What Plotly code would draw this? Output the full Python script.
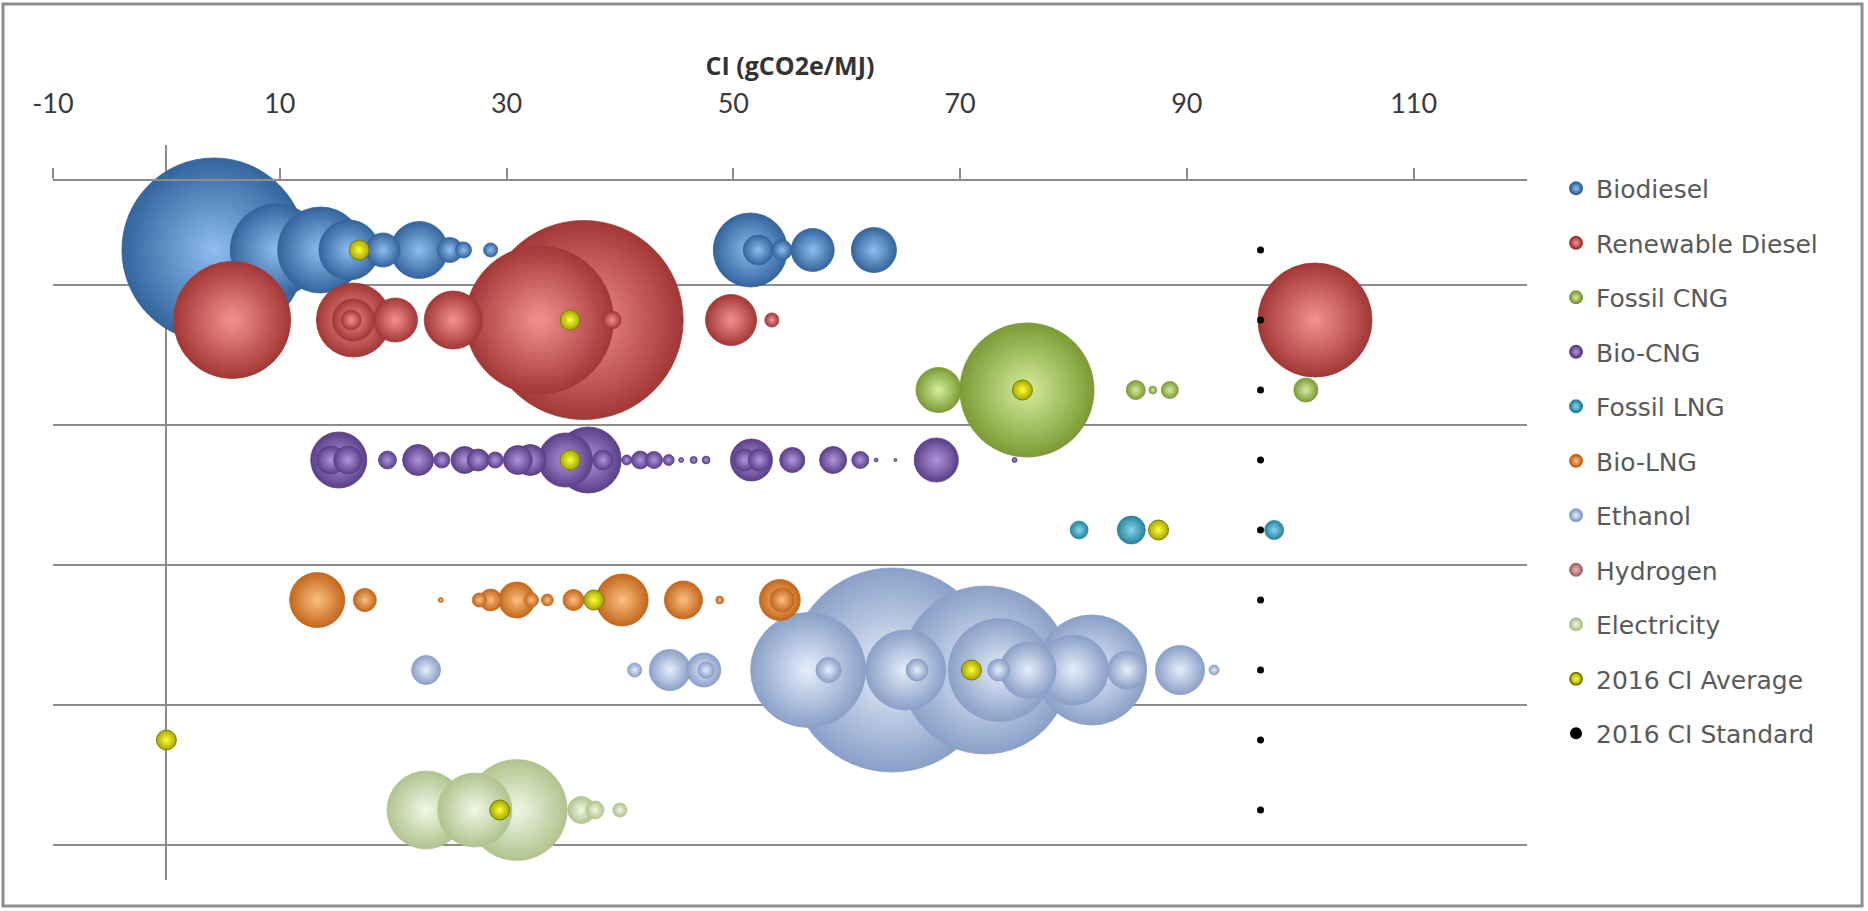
import plotly.graph_objects as go

# Fuel categories, one row each (top to bottom)
fuels = ["Biodiesel", "Renewable Diesel", "Fossil CNG", "Bio-CNG", "Fossil LNG",
         "Bio-LNG", "Ethanol", "Hydrogen", "Electricity"]

# Carbon intensity (gCO2e/MJ) and volume of each certified pathway
biodiesel_ci = [4.2, 9.7, 13.6, 16.1, 19.1, 22.3, 25.0, 26.2, 28.6, 51.5, 52.2, 54.3, 57.0, 62.4]
biodiesel_volume = [339, 85, 74, 36, 11.6, 32.5, 6.3, 2.6, 2.0, 54.8, 9.0, 4.0, 18.5, 20.3]

renewable_diesel_ci = [5.8, 16.5, 16.5, 16.3, 20.2, 25.3, 32.9, 36.8, 39.3, 49.8, 53.4, 101.3]
renewable_diesel_volume = [137, 54.8, 17.6, 4.0, 19.4, 33.6, 219, 396, 3.2, 26, 2.0, 130]

fossil_cng_ci = [68.1, 75.9, 85.5, 87.0, 88.5, 100.5]
fossil_cng_volume = [20.3, 179.6, 3.6, 0.6, 2.9, 5.8]

bio_cng_ci = [15.2, 14.5, 16.0, 19.5, 22.2, 24.3, 26.3, 27.5, 29.0, 31.0, 32.1, 35.2, 37.2,
              38.5, 40.6, 41.8, 43.0, 44.3, 45.4, 46.5, 47.6, 51.6, 51.0, 52.3, 55.2, 58.8,
              61.2, 62.6, 64.3, 67.9, 74.8]
bio_cng_volume = [31.4, 7.8, 7.8, 3.2, 9.6, 2.6, 7.3, 4.8, 2.6, 8.4, 9.6, 29.2, 43.6,
                  4.0, 1.0, 3.2, 2.9, 1.2, 0.25, 0.5, 0.6, 17.6, 4.8, 4.8, 6.3, 7.3,
                  2.9, 0.16, 0.09, 19.4, 0.25]

fossil_lng_ci = [80.5, 85.1, 97.7]
fossil_lng_volume = [3.2, 7.8, 3.6]

bio_lng_ci = [13.3, 17.5, 24.2, 27.6, 28.6, 30.9, 32.2, 33.6, 35.9, 40.2, 45.6, 48.8, 54.1, 54.3]
bio_lng_volume = [30.3, 5.3, 0.25, 2.0, 4.8, 13.0, 2.0, 1.4, 4.4, 27.0, 14.4, 0.6, 16.8, 5.8]

ethanol_ci = [22.9, 41.3, 44.4, 47.4, 47.6, 56.6, 58.4, 64.0, 65.2, 66.2, 72.2, 73.5, 73.4,
              76.0, 81.6, 80.0, 84.7, 89.4, 92.4]
ethanol_volume = [8.4, 2.0, 16.8, 11.6, 2.6, 132, 6.3, 416, 64, 4.8, 282, 106, 4.8,
                  31.4, 121, 49, 14.4, 24, 1.0]

hydrogen_ci = []
hydrogen_volume = []

electricity_ci = [22.9, 27.2, 30.9, 36.6, 37.8, 40.0]
electricity_volume = [60.8, 54.8, 102, 7.3, 3.2, 2.0]

# 2016 program figures, one per fuel row
ci_average_2016 = [17.0, 35.6, 75.5, 35.6, 87.5, 37.7, 71.0, 0.0, 29.4]
ci_standard_2016 = [96.5, 96.5, 96.5, 96.5, 96.5, 96.5, 96.5, 96.5, 96.5]

x_ticks = [-10, 10, 30, 50, 70, 90, 110]

series = {
    "Biodiesel": (biodiesel_ci, biodiesel_volume),
    "Renewable Diesel": (renewable_diesel_ci, renewable_diesel_volume),
    "Fossil CNG": (fossil_cng_ci, fossil_cng_volume),
    "Bio-CNG": (bio_cng_ci, bio_cng_volume),
    "Fossil LNG": (fossil_lng_ci, fossil_lng_volume),
    "Bio-LNG": (bio_lng_ci, bio_lng_volume),
    "Ethanol": (ethanol_ci, ethanol_volume),
    "Hydrogen": (hydrogen_ci, hydrogen_volume),
    "Electricity": (electricity_ci, electricity_volume),
}

# sphere shading: (highlight at the centre, body colour at the rim)
shade = {
    "Biodiesel": ("#8fbdf0", "#33649c"),
    "Renewable Diesel": ("#f39290", "#a23836"),
    "Fossil CNG": ("#d6ee9c", "#7b9b36"),
    "Bio-CNG": ("#b196dc", "#5b3f88"),
    "Fossil LNG": ("#86d6ec", "#26849f"),
    "Bio-LNG": ("#fbc080", "#c4661c"),
    "Ethanol": ("#e6eefa", "#8aa0c8"),
    "Hydrogen": ("#e8b8b8", "#a66a6a"),
    "Electricity": ("#f1f7e6", "#b0c48e"),
}

# large ethanol volumes are painted first so the other fuels stay in front
draw_order = ["Ethanol", "Biodiesel", "Renewable Diesel", "Fossil CNG", "Bio-CNG",
              "Fossil LNG", "Bio-LNG", "Hydrogen", "Electricity"]

largest_volume = max(max(v) for _, v in series.values() if v)
largest_diameter = 204
size_ref = 2.0 * largest_volume / largest_diameter ** 2

grid_grey = "#8c8c8c"
tick_font = "Lato, 'Open Sans', sans-serif"
legend_font = "'DejaVu Sans', 'Open Sans', sans-serif"

fig = go.Figure()

for name in draw_order:
    ci, vol = series[name]
    row = fuels.index(name) + 1
    pts = sorted(zip(ci, vol), key=lambda p: -p[1])  # small bubbles on top
    centre, rim = shade[name]
    if pts:
        xs = [p[0] for p in pts]
        sizes = [p[1] for p in pts]
    else:
        xs = [None]
        sizes = 12
    fig.add_trace(go.Scatter(
        x=xs, y=[row] * len(xs), mode="markers", name=name,
        legendgroup=name, legendrank=fuels.index(name) + 1,
        marker=dict(size=sizes, sizemode="area", sizeref=size_ref, color=rim,
                    opacity=1, gradient=dict(type="radial", color=centre),
                    line=dict(width=0.8, color=rim)),
        hovertemplate=name + "<br>CI %{x}<extra></extra>",
    ))

rows = [i + 1 for i in range(len(fuels))]

fig.add_trace(go.Scatter(
    x=ci_average_2016, y=rows, mode="markers", name="2016 CI Average",
    legendgroup="avg", legendrank=10,
    marker=dict(size=20, color="#a6a600", opacity=1,
                gradient=dict(type="radial", color="#ffff3a"),
                line=dict(width=1, color="#7d7d00")),
    hovertemplate="2016 CI Average<br>%{x}<extra></extra>",
))

fig.add_trace(go.Scatter(
    x=ci_standard_2016, y=rows, mode="markers", name="2016 CI Standard",
    legendgroup="std", legendrank=11, xaxis="x2",
    marker=dict(size=7, color="#000000"),
    hovertemplate="2016 CI Standard<br>%{x}<extra></extra>",
))

# chart frame
fig.add_shape(type="rect", xref="paper", yref="paper",
              x0=-0.0339, x1=1.2273, y0=-0.0354, y1=1.1918,
              line=dict(color=grid_grey, width=3), fillcolor="rgba(0,0,0,0)", layer="below")

fig.update_layout(
    width=1868, height=911,
    margin=dict(l=53, r=341, t=145, b=31),
    paper_bgcolor="white", plot_bgcolor="white",
    font=dict(family=tick_font, color="#404040"),
    showlegend=True,
    legend=dict(x=1.0197, y=0.972, xanchor="left", yanchor="top",
                font=dict(size=25, color="#595959", family=legend_font),
                itemsizing="constant", tracegroupgap=19, bgcolor="rgba(0,0,0,0)"),
    xaxis=dict(range=[-10, 120], side="top", tickvals=x_ticks,
               ticktext=[str(t) for t in x_ticks], ticks="", showline=False,
               showgrid=False, zeroline=True, zerolinecolor=grid_grey, zerolinewidth=2,
               ticklabelstandoff=26, tickfont=dict(size=27, color="#3a3a3a"),
               title=dict(text="<b>CI (gCO2e/MJ)</b>", standoff=2,
                          font=dict(size=25, color="#333333",
                                    family="'Open Sans', Lato, sans-serif"))),
    xaxis2=dict(range=[-10, 120], overlaying="x", anchor="free", position=0.9529,
                side="top", tickvals=x_ticks, showticklabels=False, ticks="outside",
                ticklen=11, tickwidth=1.5, tickcolor=grid_grey, showline=True,
                linecolor=grid_grey, linewidth=2, showgrid=False, zeroline=False),
    yaxis=dict(range=[10, -0.5], tick0=-0.5, dtick=2, showticklabels=False, ticks="",
               showgrid=True, gridcolor=grid_grey, gridwidth=2, zeroline=False,
               showline=False),
)

fig.write_html("out.html")
